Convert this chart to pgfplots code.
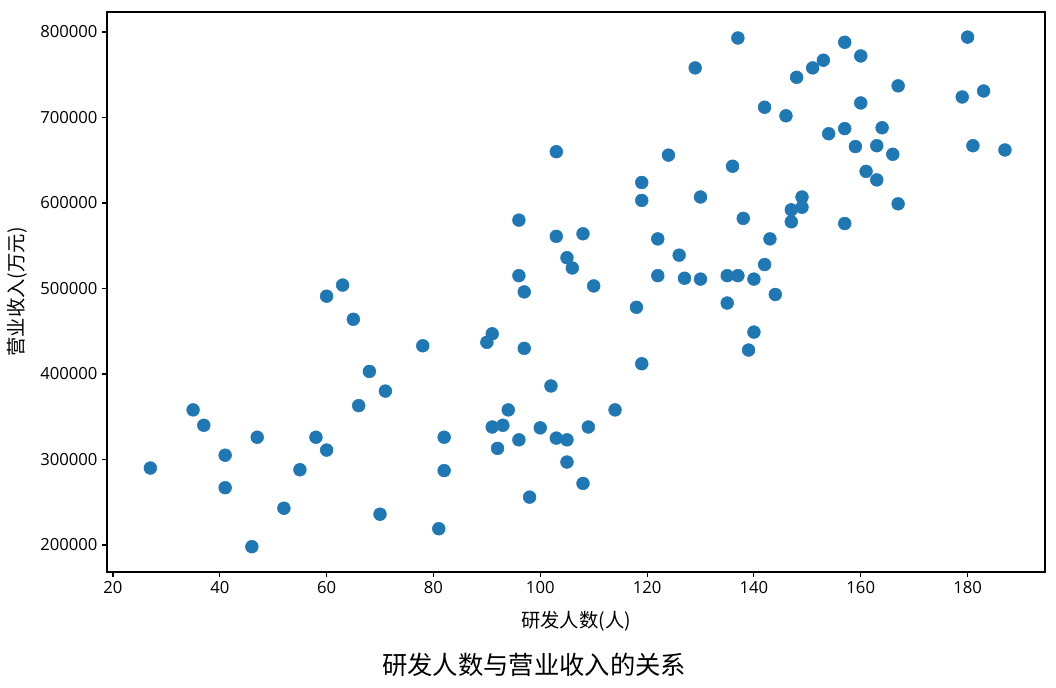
\documentclass[border=0pt]{standalone}
\usepackage{pgfplots}
\pgfplotsset{compat=1.18}
\usepackage{fontspec}
\setmainfont{Open Sans}
\newfontfamily\cjk{Noto Sans CJK SC}
\definecolor{mplblue}{HTML}{1F77B4}
\pgfplotstableread{
x y
27 290000
35 358000
37 340000
41 305000
41 267000
47 326000
46 198000
52 243000
55 288000
58 326000
60 311000
60 491000
63 504000
65 464000
66 363000
68 403000
70 236000
71 380000
78 433000
81 219000
82 326000
82 287000
90 437000
91 447000
91 338000
92 313000
93 340000
94 358000
96 580000
96 515000
96 323000
97 496000
97 430000
98 256000
100 337000
102 386000
103 660000
103 561000
103 325000
105 536000
105 323000
105 297000
106 524000
108 564000
108 272000
109 338000
110 503000
114 358000
118 478000
119 624000
119 603000
119 412000
122 558000
122 515000
124 656000
126 539000
127 512000
129 758000
130 607000
130 511000
135 483000
135 515000
136 643000
137 793000
137 515000
138 582000
139 428000
140 511000
140 449000
142 712000
142 528000
143 558000
144 493000
146 702000
147 592000
147 578000
148 747000
149 607000
149 595000
151 758000
153 767000
154 681000
157 788000
157 687000
157 576000
159 666000
160 772000
160 717000
161 637000
163 667000
163 627000
164 688000
166 657000
167 737000
167 599000
179 724000
180 794000
181 667000
183 731000
187 662000
}\datatable
\begin{document}
\begin{tikzpicture}
\path[use as bounding box] (-80.25pt,-87pt) rectangle (711.75pt,429pt);
\begin{axis}[
  at={(0,0)}, anchor=south west,
  scale only axis,
  width=703.5pt, height=420pt,
  xmin=18.88, xmax=194.5,
  ymin=168400, ymax=823400,
  xtick={20,40,...,180},
  ytick={200000,300000,...,800000},
  scaled y ticks=false,
  /pgf/number format/assume math mode=true,
  yticklabel={\pgfmathprintnumber[fixed,precision=0,1000 sep={}]{\tick}},
  xticklabel={\pgfmathprintnumber[fixed,precision=0]{\tick}},
  tick label style={font=\fontsize{12.5}{14}\selectfont},
  tick align=outside,
  tick pos=left,
  major tick length=3.6pt,
  axis line style={line width=0.8pt},
  tick style={line width=0.8pt, black},
  xlabel={\cjk 研发人数(人)},
  ylabel={\cjk 营业收入(万元)},
  label style={font=\fontsize{14.5}{16}\selectfont},
  xlabel style={at={(axis description cs:0.5,0)}, anchor=center, yshift=-37pt},
  ylabel style={at={(axis description cs:0,0.5)}, anchor=center, rotate=0, yshift=67pt},
  title={\cjk 研发人数与营业收入的关系},
  title style={at={(axis description cs:0.5,0)}, anchor=center, xshift=-31.5pt, yshift=-76pt, font=\fontsize{19}{21}\selectfont},
]
\addplot[only marks, mark=*, mark size=4.8pt, mark options={draw=mplblue, fill=mplblue}] table[x=x,y=y] {\datatable};
\end{axis}
\end{tikzpicture}
\end{document}
